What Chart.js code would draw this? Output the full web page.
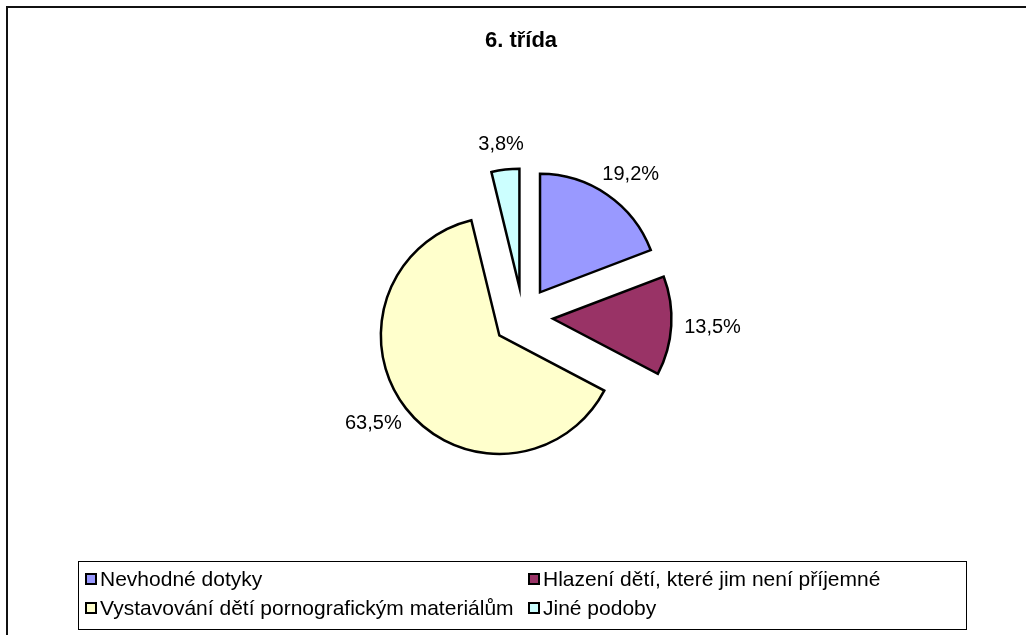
<!DOCTYPE html>
<html>
<head>
<meta charset="utf-8">
<script src="https://cdn.jsdelivr.net/npm/chart.js@4/dist/chart.umd.min.js"></script>
<style>
  html, body { margin: 0; padding: 0; background: #fff; }
  body { width: 1026px; height: 635px; position: relative; overflow: hidden; font-family: "Liberation Sans", Arial, sans-serif; }
  #frame { position: absolute; left: 6px; top: 6px; width: 1040px; height: 660px; border: 2px solid #111; box-sizing: border-box; }
  #title { position: absolute; left: 0; width: 1042px; top: 27px; text-align: center; font-weight: bold; font-size: 22px; line-height: 26px; color: #000; }
  #chartWrap { position: absolute; left: 0; top: 0; width: 1026px; height: 635px; }
  #legend { position: absolute; left: 78px; top: 561px; width: 889px; height: 69px; border: 1px solid #000; box-sizing: border-box; }
  .item { position: absolute; font-size: 21px; line-height: 24px; color: #000; white-space: nowrap; }
  .sw { position: absolute; left: 0; top: 6px; width: 12px; height: 12px; border: 2px solid #000; box-sizing: border-box; }
  .tx { position: absolute; left: 15px; top: 0; }
</style>
</head>
<body>
<div id="frame"></div>
<div id="chartWrap"><canvas id="c" width="1026" height="635"></canvas></div>
<div id="title"></div>
<div id="legend"></div>
<script>
const chartTitle = "6. třída";
const categories = ["Nevhodné dotyky", "Hlazení dětí, které jim není příjemné", "Vystavování dětí pornografickým materiálům", "Jiné podoby"];
const values = [19.2, 13.5, 63.5, 3.8];
const valueLabels = ["19,2%", "13,5%", "63,5%", "3,8%"];
const colors = ["#9999FF", "#993366", "#FFFFCC", "#CCFFFF"];

document.getElementById('title').textContent = chartTitle;

// HTML legend built from the data arrays (2 columns, row-major like the original)
const legendEl = document.getElementById('legend');
const colX = [6, 449];
const rowY = [5, 34];
categories.forEach((cat, i) => {
  const d = document.createElement('div');
  d.className = 'item';
  d.style.left = colX[i % 2] + 'px';
  d.style.top = rowY[Math.floor(i / 2)] + 'px';
  const sw = document.createElement('span');
  sw.className = 'sw';
  sw.style.background = colors[i];
  const tx = document.createElement('span');
  tx.className = 'tx';
  tx.textContent = cat;
  d.appendChild(sw);
  d.appendChild(tx);
  legendEl.appendChild(d);
});

const EXPLODE = 30;

const explodePlugin = {
  id: 'explodeAndLabels',
  beforeDatasetDraw(chart, args) {
    const ctx = chart.ctx;
    const meta = args.meta;
    // draw each slice pulled out from the centre along its mid angle
    meta.data.forEach((arc) => {
      const p = arc.getProps(['startAngle', 'endAngle'], true);
      const mid = (p.startAngle + p.endAngle) / 2;
      ctx.save();
      ctx.translate(Math.cos(mid) * EXPLODE, Math.sin(mid) * EXPLODE);
      arc.draw(ctx, chart.chartArea);
      ctx.restore();
    });
    // percentage labels outside each slice
    ctx.save();
    ctx.font = '20px "Liberation Sans", Arial, sans-serif';
    ctx.fillStyle = '#000';
    ctx.textAlign = 'center';
    ctx.textBaseline = 'middle';
    meta.data.forEach((arc, i) => {
      const p = arc.getProps(['x', 'y', 'startAngle', 'endAngle', 'outerRadius'], true);
      const mid = (p.startAngle + p.endAngle) / 2;
      const ux = Math.cos(mid), uy = Math.sin(mid);
      const cx = p.x + ux * EXPLODE, cy = p.y + uy * EXPLODE;
      const txt = valueLabels[i];
      const w = ctx.measureText(txt).width, h = 24;
      const gap = 13;
      const px = cx + ux * (p.outerRadius + gap) + ux * w / 2;
      const py = cy + uy * (p.outerRadius + gap) + uy * h / 2;
      ctx.fillText(txt, px, py);
    });
    ctx.restore();
    return false;
  }
};

new Chart(document.getElementById('c'), {
  type: 'pie',
  data: {
    labels: categories,
    datasets: [{
      data: values,
      backgroundColor: colors,
      borderColor: '#000',
      borderWidth: 2.5,
      borderAlign: 'center',
      borderJoinStyle: 'miter',
      offset: 0,
      hoverOffset: 0
    }]
  },
  options: {
    responsive: false,
    animation: false,
    radius: 118.5,
    layout: { padding: { left: 120, right: 100, top: 100, bottom: 101 } },
    plugins: {
      legend: { display: false },
      title: { display: false },
      tooltip: { enabled: false }
    },
    events: []
  },
  plugins: [explodePlugin]
});
</script>
</body>
</html>
